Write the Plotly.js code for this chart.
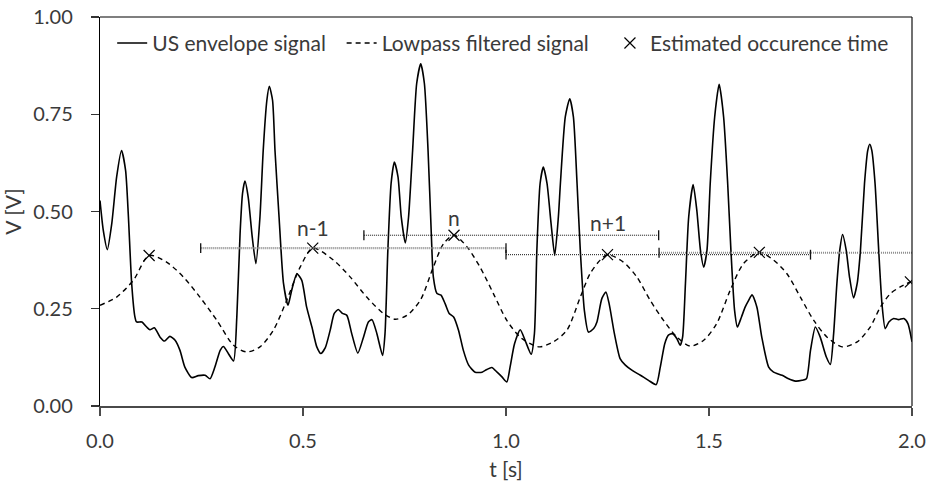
<!DOCTYPE html>
<html>
<head>
<meta charset="utf-8">
<script src="https://cdn.plot.ly/plotly-3.0.1.min.js"></script>
<style>html,body{margin:0;padding:0;background:#fff;}#chart{width:928px;height:481px;}</style>
</head>
<body>
<div id="chart"></div>
<script>
// US envelope signal
const usT = [0.000,0.008,0.018,0.029,0.041,0.053,0.063,0.070,0.078,0.086,0.090,0.103,0.115,0.123,0.134,0.148,0.159,0.172,0.185,0.197,0.209,0.226,0.242,0.259,0.271,0.283,0.296,0.304,0.316,0.329,0.337,0.345,0.351,0.357,0.365,0.375,0.384,0.394,0.402,0.411,0.417,0.425,0.431,0.441,0.452,0.463,0.472,0.485,0.497,0.509,0.522,0.534,0.544,0.555,0.567,0.577,0.587,0.597,0.608,0.620,0.635,0.649,0.661,0.670,0.682,0.696,0.702,0.709,0.717,0.725,0.734,0.742,0.752,0.760,0.770,0.780,0.790,0.799,0.808,0.816,0.821,0.830,0.840,0.850,0.860,0.871,0.883,0.895,0.908,0.924,0.941,0.953,0.965,0.978,0.990,1.002,1.010,1.021,1.035,1.047,1.062,1.070,1.076,1.084,1.092,1.101,1.111,1.120,1.129,1.134,1.146,1.157,1.166,1.175,1.183,1.193,1.203,1.216,1.224,1.236,1.246,1.254,1.267,1.281,1.294,1.310,1.331,1.351,1.370,1.380,1.391,1.400,1.410,1.421,1.429,1.435,1.442,1.450,1.461,1.470,1.479,1.487,1.495,1.503,1.514,1.525,1.536,1.546,1.554,1.563,1.570,1.580,1.589,1.598,1.606,1.618,1.630,1.647,1.659,1.680,1.696,1.713,1.729,1.740,1.750,1.762,1.774,1.789,1.799,1.807,1.815,1.822,1.829,1.838,1.846,1.856,1.865,1.873,1.883,1.891,1.896,1.901,1.909,1.918,1.926,1.934,1.943,1.955,1.967,1.980,1.990,2.000];
const usV = [0.528,0.452,0.402,0.469,0.589,0.657,0.606,0.486,0.315,0.229,0.216,0.216,0.203,0.196,0.201,0.177,0.167,0.179,0.169,0.143,0.100,0.073,0.078,0.079,0.070,0.100,0.143,0.153,0.135,0.116,0.229,0.443,0.546,0.578,0.537,0.434,0.366,0.486,0.657,0.786,0.822,0.786,0.657,0.486,0.315,0.259,0.297,0.340,0.323,0.254,0.203,0.152,0.135,0.150,0.195,0.238,0.248,0.238,0.233,0.186,0.136,0.177,0.216,0.222,0.186,0.130,0.186,0.400,0.572,0.627,0.589,0.486,0.419,0.486,0.657,0.829,0.880,0.829,0.657,0.443,0.332,0.289,0.285,0.263,0.238,0.229,0.195,0.143,0.105,0.087,0.087,0.094,0.099,0.087,0.075,0.062,0.100,0.160,0.196,0.169,0.133,0.186,0.400,0.572,0.614,0.572,0.469,0.387,0.486,0.572,0.743,0.790,0.743,0.572,0.400,0.246,0.190,0.199,0.216,0.276,0.293,0.263,0.186,0.122,0.105,0.092,0.079,0.066,0.055,0.100,0.160,0.182,0.186,0.173,0.156,0.177,0.315,0.486,0.569,0.503,0.400,0.357,0.400,0.572,0.743,0.827,0.743,0.572,0.400,0.246,0.203,0.229,0.254,0.272,0.286,0.254,0.177,0.100,0.087,0.079,0.070,0.064,0.066,0.070,0.143,0.203,0.177,0.126,0.107,0.186,0.315,0.400,0.441,0.400,0.332,0.278,0.315,0.400,0.572,0.657,0.673,0.657,0.572,0.400,0.263,0.199,0.216,0.225,0.222,0.225,0.212,0.165];

// Lowpass filtered signal
const lpT = [0.000,0.041,0.082,0.121,0.164,0.205,0.246,0.288,0.329,0.361,0.394,0.427,0.460,0.493,0.524,0.575,0.616,0.657,0.698,0.727,0.756,0.789,0.821,0.846,0.872,0.904,0.936,0.969,1.002,1.035,1.068,1.084,1.117,1.150,1.183,1.207,1.232,1.250,1.289,1.322,1.355,1.388,1.421,1.454,1.487,1.519,1.552,1.585,1.624,1.659,1.692,1.725,1.758,1.791,1.828,1.865,1.897,1.922,1.947,1.971,1.996];
const lpV = [0.259,0.280,0.323,0.387,0.370,0.332,0.280,0.220,0.156,0.139,0.152,0.195,0.272,0.357,0.406,0.375,0.332,0.280,0.238,0.223,0.233,0.272,0.357,0.417,0.439,0.409,0.357,0.289,0.220,0.177,0.156,0.152,0.165,0.195,0.280,0.340,0.375,0.389,0.370,0.332,0.272,0.220,0.177,0.154,0.169,0.212,0.297,0.366,0.395,0.375,0.340,0.280,0.220,0.177,0.152,0.165,0.203,0.254,0.289,0.306,0.319];

// Estimated occurrence times
const occT = [0.121,0.524,0.872,1.250,1.624,1.996];
const occV = [0.387,0.406,0.439,0.389,0.395,0.319];

// Windows
const winStart = [0.248,0.650,1.000,1.377];
const winEnd   = [1.000,1.376,1.750,2.125];
const winLevel = [0.406,0.439,0.389,0.394];
const winLabels = ["n-1","n","n+1",""];

// Legend names
const seriesNames = ["US envelope signal", "Lowpass filtered signal", "Estimated occurence time"];

const FONT = "Lato, 'Open Sans', sans-serif";
const TXT = "#3a3a3a";
const NB = "\u00a0";

const traces = [
  {x: usT, y: usV, type: 'scatter', mode: 'lines', name: seriesNames[0] + NB + NB,
   line: {color: '#000', width: 1.6, shape: 'spline', smoothing: 0.6}, hoverinfo: 'skip'},
  {x: lpT, y: lpV, type: 'scatter', mode: 'lines', name: seriesNames[1] + NB + NB + NB,
   line: {color: '#000', width: 1.4, dash: '5px,4px', shape: 'spline', smoothing: 0.8}, hoverinfo: 'skip'},
  {x: occT, y: occV, type: 'scatter', mode: 'markers', name: seriesNames[2],
   marker: {symbol: 'x-thin-open', size: 11, color: '#000', line: {color: '#222', width: 1.2}}, hoverinfo: 'skip'}
];

const winStyles = [
  {color: '#8a8a8a', width: 2.2, dash: '1px,1px'},
  {color: '#111', width: 1, dash: '1px,1px'},
  {color: '#111', width: 1, dash: '1px,1px'},
  {color: '#8a8a8a', width: 2.2, dash: '1px,1px'}
];
for (let i = 0; i < winStart.length; i++) {
  traces.push({
    x: [winStart[i], winEnd[i]], y: [winLevel[i], winLevel[i]],
    type: 'scatter', mode: 'lines+markers', showlegend: false, hoverinfo: 'skip',
    line: winStyles[i],
    marker: {symbol: 'line-ns', size: 7, color: '#111', line: {color: '#111', width: 1.3}},
    cliponaxis: true
  });
}

const labelShift = [6, 3, 18];
const annotations = [];
for (let i = 0; i < 3; i++) {
  annotations.push({
    x: occT[i + 1], y: occV[i + 1], xref: 'x', yref: 'y', text: winLabels[i],
    showarrow: false, yanchor: 'bottom', yshift: labelShift[i],
    font: {family: FONT, size: 21, color: TXT}
  });
}

const layout = {
  width: 928, height: 481,
  margin: {l: 100, r: 16, t: 17, b: 75},
  paper_bgcolor: '#fff', plot_bgcolor: '#fff',
  font: {family: FONT, size: 20, color: TXT},
  showlegend: true,
  legend: {orientation: 'h', x: 0.015, y: 0.985, xanchor: 'left', yanchor: 'top',
           bgcolor: 'rgba(0,0,0,0)', font: {family: FONT, size: 21, color: TXT}, itemclick: false},
  xaxis: {range: [0, 2], tickvals: [0, 0.5, 1.0, 1.5, 2.0], ticktext: ['0.0','0.5','1.0','1.5','2.0'],
          showgrid: false, zeroline: false, showline: true, linecolor: '#4a4a4a', linewidth: 2,
          ticks: 'outside', ticklen: 8, tickcolor: '#4a4a4a', tickwidth: 1.5, ticklabelstandoff: 8,
          title: {text: 't [s]', font: {family: FONT, size: 21, color: TXT}, standoff: 12}},
  yaxis: {range: [0, 1], tickvals: [0, 0.25, 0.5, 0.75, 1.0], ticktext: ['0.00','0.25','0.50','0.75','1.00'],
          showgrid: false, zeroline: false, showline: true, linecolor: '#000', linewidth: 1.2,
          ticks: 'outside', ticklen: 8, tickcolor: '#333', tickwidth: 1.2, ticklabelstandoff: 14,
          title: {text: 'V [V]', font: {family: FONT, size: 21, color: TXT}, standoff: 6}},
  shapes: [
    {type: 'line', xref: 'paper', yref: 'paper', x0: 0, x1: 1, y0: 1, y1: 1,
     line: {color: '#7f7f7f', width: 2}},
    {type: 'line', xref: 'paper', yref: 'paper', x0: 1, x1: 1, y0: 0, y1: 1,
     line: {color: '#111', width: 1.2}}
  ],
  annotations: annotations
};

Plotly.newPlot('chart', traces, layout, {staticPlot: true, displayModeBar: false});
</script>
</body>
</html>
